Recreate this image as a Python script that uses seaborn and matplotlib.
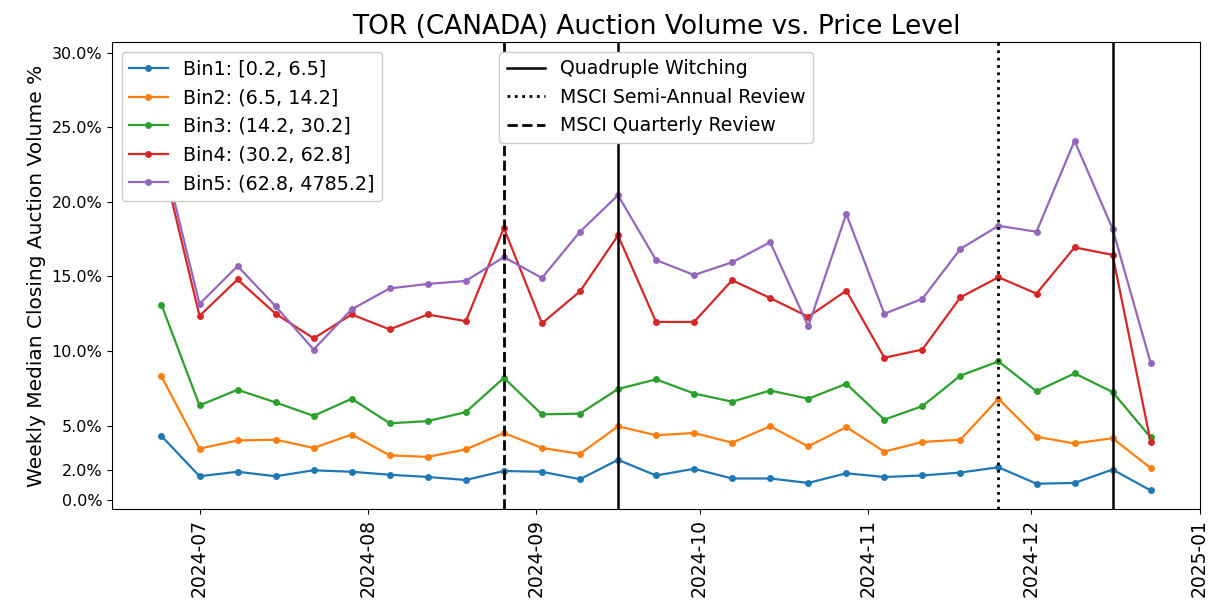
import matplotlib
matplotlib.use('Agg')
import matplotlib.pyplot as plt
import matplotlib.dates as mdates
from matplotlib.lines import Line2D
from matplotlib.ticker import PercentFormatter
import pandas as pd
import seaborn as sns

# Weekly medians (week start dates), values in percent
weeks = pd.date_range('2024-06-24', '2024-12-23', freq='7D')

bin_labels = ['Bin1: [0.2, 6.5]', 'Bin2: (6.5, 14.2]', 'Bin3: (14.2, 30.2]',
              'Bin4: (30.2, 62.8]', 'Bin5: (62.8, 4785.2]']

bin1 = [4.3, 1.6, 1.9, 1.6, 2.0, 1.9, 1.7, 1.55, 1.35, 1.95, 1.9, 1.4, 2.7, 1.65,
        2.1, 1.45, 1.45, 1.15, 1.8, 1.55, 1.65, 1.85, 2.2, 1.1, 1.15, 2.05, 0.65]
bin2 = [8.3, 3.45, 4.0, 4.05, 3.5, 4.4, 3.0, 2.9, 3.4, 4.5, 3.5, 3.1, 4.95, 4.35,
        4.5, 3.85, 4.95, 3.6, 4.9, 3.25, 3.9, 4.05, 6.8, 4.25, 3.8, 4.15, 2.15]
bin3 = [13.1, 6.35, 7.4, 6.55, 5.65, 6.8, 5.15, 5.3, 5.9, 8.2, 5.75, 5.8, 7.45, 8.1,
        7.15, 6.6, 7.35, 6.8, 7.8, 5.4, 6.3, 8.35, 9.3, 7.3, 8.5, 7.25, 4.2]
bin4 = [23.0, 12.35, 14.8, 12.5, 10.85, 12.45, 11.45, 12.45, 12.0, 18.25, 11.85, 14.0,
        17.75, 11.95, 11.95, 14.75, 13.55, 12.3, 14.05, 9.55, 10.1, 13.6, 14.95, 13.85,
        16.95, 16.45, 3.9]
bin5 = [23.6, 13.15, 15.7, 13.0, 10.1, 12.8, 14.2, 14.5, 14.7, 16.3, 14.9, 18.0, 20.45,
        16.1, 15.1, 15.95, 17.3, 11.65, 19.2, 12.5, 13.5, 16.85, 18.4, 18.0, 24.1, 18.2, 9.2]

quad_witching = ['2024-09-16', '2024-12-16']
msci_semi = ['2024-11-25']
msci_quarterly = ['2024-08-26']

yticks = [0, 2, 5, 10, 15, 20, 25, 30]

fig, ax = plt.subplots(figsize=(12.11, 6.06), dpi=100)
plt.subplots_adjust(left=0.0925, right=0.991, top=0.93, bottom=0.16)

for label, vals in zip(bin_labels, [bin1, bin2, bin3, bin4, bin5]):
    sns.lineplot(x=weeks, y=vals, marker='o', markersize=5, markeredgewidth=0,
                 linewidth=1.6, label=label, ax=ax)

leg1 = ax.legend(loc='upper left', fontsize=13.8, framealpha=1)
ax.add_artist(leg1)

for d in quad_witching:
    ax.axvline(pd.Timestamp(d), color='black', linestyle='-', linewidth=1.8)
for d in msci_semi:
    ax.axvline(pd.Timestamp(d), color='black', linestyle=':', linewidth=2)
for d in msci_quarterly:
    ax.axvline(pd.Timestamp(d), color='black', linestyle='--', linewidth=2)

event_handles = [
    Line2D([], [], color='black', linestyle='-', linewidth=1.8, label='Quadruple Witching'),
    Line2D([], [], color='black', linestyle=':', linewidth=2, label='MSCI Semi-Annual Review'),
    Line2D([], [], color='black', linestyle='--', linewidth=2, label='MSCI Quarterly Review'),
]
ax.legend(handles=event_handles, loc='upper center', fontsize=13.6, framealpha=1)

ax.set_ylim(-0.6, 30.7)
ax.set_yticks(yticks)
ax.yaxis.set_major_formatter(PercentFormatter(100, decimals=1))
ax.tick_params(axis='y', labelsize=11.5)

ax.xaxis.set_major_locator(mdates.MonthLocator())
ax.xaxis.set_major_formatter(mdates.DateFormatter('%Y-%m'))
plt.setp(ax.get_xticklabels(), rotation=90, fontsize=13.5)

ax.set_xlabel('')
ax.set_ylabel('Weekly Median Closing Auction Volume %', fontsize=14.5)
ax.set_title('TOR (CANADA) Auction Volume vs. Price Level', fontsize=19)

fig.savefig('out.png', dpi=100)
